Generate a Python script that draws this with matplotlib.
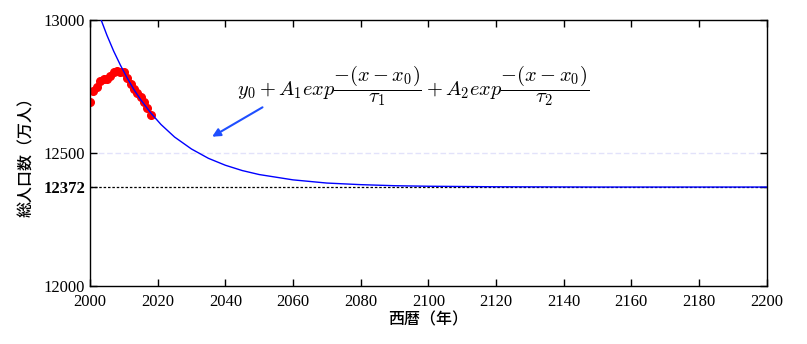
import matplotlib
matplotlib.use("Agg")
import matplotlib.pyplot as plt

# observed population (10k persons), 2000-2018
obs_years = list(range(2000, 2019))
obs_pop = [12693, 12732, 12749, 12769, 12779, 12777, 12790, 12803, 12808, 12803,
           12806, 12783, 12759, 12741, 12724, 12709, 12693, 12671, 12644]

# fitted curve
fit_years = [2003.3, 2005, 2007, 2009, 2011, 2013, 2015, 2018, 2021, 2025, 2030,
             2035, 2040, 2045, 2050, 2060, 2070, 2080, 2090, 2100, 2120, 2150, 2200]
fit_pop = [13000, 12943, 12883, 12830, 12782, 12738, 12700, 12650, 12607, 12560, 12515,
           12480, 12454, 12434, 12419, 12399, 12387, 12381, 12377, 12375, 12373, 12372, 12372]

asymptote = 12372
ref_line = 12500
yticks = [12000, 12372, 12500, 13000]
xticks = list(range(2000, 2201, 20))

plt.rcParams["font.family"] = ["Liberation Serif", "Noto Sans CJK JP"]
plt.rcParams["mathtext.fontset"] = "cm"

fig = plt.figure(figsize=(8.07, 3.44), dpi=100)
ax = fig.add_axes([0.1115, 0.1686, 0.8385, 0.7733])

ax.axhline(ref_line, color="#e2e2fa", lw=1, ls=(0, (4, 2)), zorder=1)
ax.axhline(asymptote, color="black", lw=0.9, ls=(0, (2, 1.5)), zorder=1)
ax.plot(fit_years, fit_pop, color="blue", lw=1, zorder=3)
ax.plot(obs_years, obs_pop, "o", color="red", ms=5.5, zorder=2)

ax.set_xlim(2000, 2200)
ax.set_ylim(12000, 13000)
ax.set_xticks(xticks)
ax.set_yticks(yticks)
ax.tick_params(direction="in", top=True, right=True, labelsize=12, length=5, width=1)
ax.tick_params(axis="x", pad=6)
for lab in ax.get_yticklabels():
    if lab.get_text() == str(asymptote):
        lab.set_fontweight("bold")
for t in ax.yaxis.get_major_ticks():
    if t.get_loc() == ref_line:
        t.tick1line.set_color("#999999")
        t.tick2line.set_color("#999999")
for s in ax.spines.values():
    s.set_linewidth(1)

ax.set_xlabel("西暦（年）", family="Noto Sans CJK JP", fontweight="medium",
              fontsize=11.5, labelpad=1)
ax.set_ylabel("総人口数（万人）", family="Noto Sans CJK JP", fontweight="medium",
              fontsize=11.5, labelpad=6)

ax.text(2043.4, 12755,
        r"$y_0 + A_1 exp\dfrac{-(x-x_0)}{\tau_1} + A_2 exp\dfrac{-(x-x_0)}{\tau_2}$",
        fontsize=14.7, va="center", ha="left")
ax.annotate("", xy=(2035.4, 12556), xytext=(2051.7, 12677),
            arrowprops=dict(arrowstyle="-|>", color="#1f4fff", lw=1.5,
                            mutation_scale=12))

fig.savefig("out.png", dpi=100)
